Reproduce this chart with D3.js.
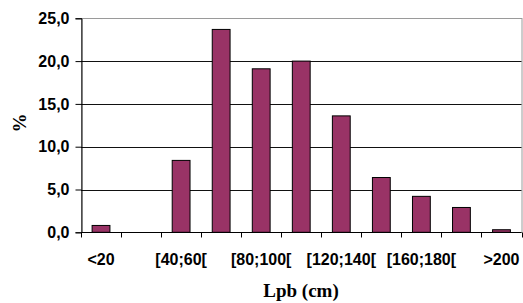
<!DOCTYPE html>
<html><head><meta charset="utf-8">
<script src="https://cdn.jsdelivr.net/npm/d3@7"></script>
<style>body{margin:0;background:#fff}svg{display:block}</style>
</head><body>
<svg id="c" width="523" height="303"></svg>
<script>
const categories = ["<20","[20;40[","[40;60[","[60;80[","[80;100[","[100;120[","[120;140[","[140;160[","[160;180[","[180;200[",">200"];
const values = [0.8, 0, 8.4, 23.7, 19.1, 20.0, 13.6, 6.4, 4.2, 2.9, 0.3];
const yTicks = [0, 5, 10, 15, 20, 25];
const shownLabels = ["<20","[40;60[","[80;100[","[120;140[","[160;180[",">200"];

const svg = d3.select("#c");
const L = 81, R = 521.5, T = 18.3, B = 232.3;
const x = d3.scaleBand().domain(categories).range([L, R]).paddingInner(0.555).paddingOuter(0.2775);
const xb = d3.scaleBand().domain(categories).range([L, R]);
const y = d3.scaleLinear().domain([0, 25]).range([B, T]);
const fmt = d => d.toFixed(1).replace(".", ",");

// plot area border
svg.append("rect").attr("x", L + 0.5).attr("y", Math.round(T) + 0.5)
  .attr("width", R - L).attr("height", B - T).attr("fill", "none").attr("stroke", "#9a9a9a");

// gridlines
svg.append("g").selectAll("line").data(yTicks.filter(d => d > 0 && d < 25)).join("line")
  .attr("x1", L).attr("x2", R)
  .attr("y1", d => Math.round(y(d)) + 0.5).attr("y2", d => Math.round(y(d)) + 0.5)
  .attr("stroke", "#111").attr("stroke-width", 1);

// bars
svg.append("g").selectAll("rect").data(values).join("rect")
  .attr("x", (d, i) => x(categories[i]))
  .attr("y", d => y(d))
  .attr("width", x.bandwidth())
  .attr("height", d => B - y(d))
  .attr("fill", "#993366").attr("stroke", "#000").attr("stroke-width", 1)
  .attr("display", d => d > 0 ? null : "none");

// y axis
const yAxis = d3.axisLeft(y).tickValues(yTicks).tickFormat(fmt).tickSize(6).tickPadding(6);
const gy = svg.append("g").attr("transform", `translate(${L + 0.5},0)`).call(yAxis);
gy.select(".domain").attr("stroke", "#000");
gy.selectAll(".tick line").attr("stroke", "#000");
gy.selectAll("text").attr("font-family", "Liberation Sans, Arial, sans-serif")
  .attr("font-size", 16).attr("font-weight", "bold").attr("fill", "#000");

// x axis with ticks at band boundaries
const gx = svg.append("g").attr("transform", `translate(0,${Math.round(B) + 0.5})`);
gx.append("line").attr("x1", L).attr("x2", R).attr("stroke", "#000");
const bounds = categories.map(c => xb(c)).concat([R]);
gx.selectAll("line.t").data(bounds).join("line").attr("class", "t")
  .attr("x1", d => Math.round(d) + 0.5).attr("x2", d => Math.round(d) + 0.5)
  .attr("y1", 0).attr("y2", 5).attr("stroke", "#000");
gx.selectAll("text").data(shownLabels).join("text")
  .attr("x", d => xb(d) + xb.bandwidth() / 2)
  .attr("y", 32)
  .attr("text-anchor", "middle")
  .attr("font-family", "Liberation Sans, Arial, sans-serif")
  .attr("font-size", 16).attr("font-weight", "bold").attr("fill", "#000")
  .text(d => d);

// axis titles
svg.append("text").attr("transform", "translate(26,123) rotate(-90)")
  .attr("text-anchor", "middle")
  .attr("font-family", "Liberation Serif, Times New Roman, serif")
  .attr("font-size", 19).attr("font-weight", "bold").text("%");
svg.append("text").attr("x", 301).attr("y", 297)
  .attr("text-anchor", "middle")
  .attr("font-family", "Liberation Serif, Times New Roman, serif")
  .attr("font-size", 19).attr("font-weight", "bold").text("Lpb (cm)");
</script>
</body></html>
